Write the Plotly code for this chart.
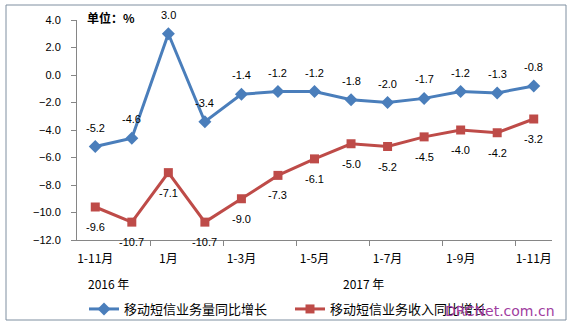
import plotly.graph_objects as go

categories = ["1-11月", "1-12月", "1月", "1-2月", "1-3月", "1-4月", "1-5月",
              "1-6月", "1-7月", "1-8月", "1-9月", "1-10月", "1-11月"]
volume_growth = [-5.2, -4.6, 3.0, -3.4, -1.4, -1.2, -1.2, -1.8, -2.0, -1.7, -1.2, -1.3, -0.8]
revenue_growth = [-9.6, -10.7, -7.1, -10.7, -9.0, -7.3, -6.1, -5.0, -5.2, -4.5, -4.0, -4.2, -3.2]
series_names = ["移动短信业务量同比增长", "移动短信业务收入同比增长"]
shown_idx = [0, 2, 4, 6, 8, 10, 12]
y_ticks = [4, 2, 0, -2, -4, -6, -8, -10, -12]

xs = list(range(len(categories)))
BLUE = "#4A7EBB"
RED = "#BE4B48"
num_font = dict(family="Liberation Sans, Arial", size=11, color="#000000")
cjk = "Noto Sans CJK SC"

fig = go.Figure()
fig.add_trace(go.Scatter(
    x=xs, y=volume_growth, name=series_names[0], mode="lines+markers",
    line=dict(color=BLUE, width=3),
    marker=dict(symbol="diamond", size=10, color=BLUE),
    cliponaxis=False,
))
fig.add_trace(go.Scatter(
    x=xs, y=revenue_growth, name=series_names[1], mode="lines+markers",
    line=dict(color=RED, width=3),
    marker=dict(symbol="square", size=9, color=RED),
    cliponaxis=False,
))

for x, v in zip(xs, volume_growth):
    fig.add_annotation(x=x, y=v, text=f"{v:.1f}", showarrow=False, yshift=19, font=num_font)
for x, v in zip(xs, revenue_growth):
    fig.add_annotation(x=x, y=v, text=f"{v:.1f}", showarrow=False, yshift=-20, font=num_font)

fig.update_layout(
    width=574, height=325,
    margin=dict(l=77, r=22, t=20, b=85, autoexpand=False),
    paper_bgcolor="white", plot_bgcolor="white",
    showlegend=True,
    legend=dict(orientation="h", xref="container", yref="container",
                x=84 / 574, xanchor="left", y=(325 - 309) / 325, yanchor="middle",
                font=dict(family=cjk, size=13, color="#000"),
                itemwidth=30, entrywidth=161, traceorder="normal", bgcolor="rgba(0,0,0,0)"),
    xaxis=dict(
        range=[-0.5, len(categories) - 0.5],
        tickmode="array", tickvals=[xs[i] for i in shown_idx],
        ticktext=[categories[i] for i in shown_idx],
        ticks="", showgrid=False, zeroline=False, automargin=False,
        showline=True, linecolor="#868686", linewidth=1,
        tickfont=dict(family=cjk, size=12, color="#000"),
        minor=dict(tickvals=[1.5, 3.5, 5.5, 7.5, 9.5, 11.5], ticks="outside",
                   ticklen=5, tickcolor="#868686", showgrid=False),
        ticklabelstandoff=8,
    ),
    yaxis=dict(
        range=[-12, 4], tickmode="array", tickvals=y_ticks, tickformat=".1f",
        ticks="outside", ticklen=5, tickcolor="#868686", automargin=False,
        showgrid=False, zeroline=False,
        showline=True, linecolor="#868686", linewidth=1,
        tickfont=num_font, ticklabelstandoff=8,
    ),
)

fig.add_annotation(xref="paper", yref="paper", x=0.017, y=1.01, xanchor="left", yanchor="middle",
                   text="<b>单位：%</b>", showarrow=False,
                   font=dict(family=cjk, size=12, color="#000"))
fig.add_annotation(xref="x", yref="paper", x=0.36, y=(240 - 283) / 220, yanchor="middle",
                   text="2016 年", showarrow=False,
                   font=dict(family=cjk, size=12, color="#000"))
fig.add_annotation(xref="x", yref="paper", x=7.33, y=(240 - 283) / 220, yanchor="middle",
                   text="2017 年", showarrow=False,
                   font=dict(family=cjk, size=12, color="#000"))
fig.add_annotation(xref="paper", yref="paper", x=(500 - 77) / 475, y=(240 - 311) / 220,
                   xanchor="center", yanchor="middle", text="DRCNet.com.cn", showarrow=False,
                   font=dict(family="DejaVu Sans", size=14, color="#A03CA0"))
fig.add_shape(type="rect", xref="paper", yref="paper",
              x0=(6 - 77) / 475, x1=(566 - 77) / 475,
              y0=(240 - 320) / 220, y1=(240 - 5) / 220,
              line=dict(color="#7F8FA0", width=1), fillcolor="rgba(0,0,0,0)", layer="below")

fig.write_html("out.html")
